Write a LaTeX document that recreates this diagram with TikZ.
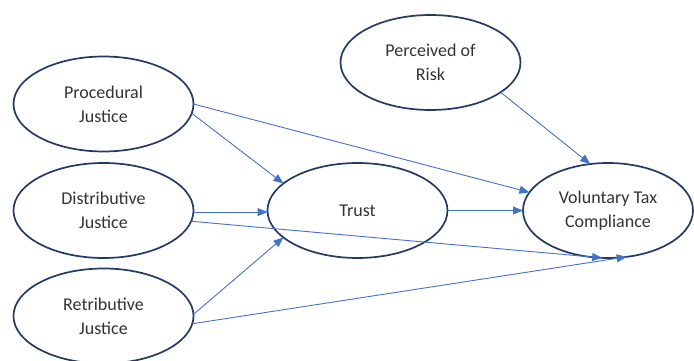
\documentclass[tikz,border=0pt]{standalone}
\usepackage{fontspec}
\setmainfont{Carlito}
\usetikzlibrary{shapes.geometric,arrows.meta}
\definecolor{navy}{HTML}{233A62}
\definecolor{arrowblue}{HTML}{4472C4}
\definecolor{txt}{HTML}{333333}
\tikzset{
  oval/.style={ellipse, draw=navy, line width=1.7pt, fill=white, inner sep=0pt, outer sep=0pt,
    minimum width=180pt, minimum height=95pt, align=center, text=txt,
    font=\fontsize{18pt}{24pt}\selectfont},
  link/.style={draw=arrowblue, line width=0.9pt, -{Triangle[length=10pt,width=8pt]}}
}
\begin{document}
\begin{tikzpicture}[x=1pt,y=1pt]
\useasboundingbox (0,0) rectangle (694,-361);
\node[oval] (proc) at (103.5,-104) {Procedural\\Justice};
\node[oval] (dist) at (103.5,-210.5) {Distributive\\Justice};
\node[oval] (retr) at (103.5,-316) {Retributive\\Justice};
\node[oval] (risk) at (430.5,-62.5) {Perceived of\\Risk};
\node[oval] (trust) at (357.5,-210.5) {Trust};
\node[oval, minimum width=170pt] (vtc) at (608,-210.5) {Voluntary Tax\\Compliance};
\draw[link] (proc.-6.9) -- (trust.160.5);
\draw[link] (proc.0.6) -- (vtc.167.4);
\draw[link] (dist.-1) -- (trust.181);
\draw[link] (dist.-7.9) -- (vtc.263.9);
\draw[link] (retr.1.9) -- (trust.200.4);
\draw[link] (retr.-5.7) -- (vtc.-68.2);
\draw[link] (trust.0) -- (vtc.180);
\draw[link] (risk.-23.8) -- (vtc.111.6);
\end{tikzpicture}
\end{document}
